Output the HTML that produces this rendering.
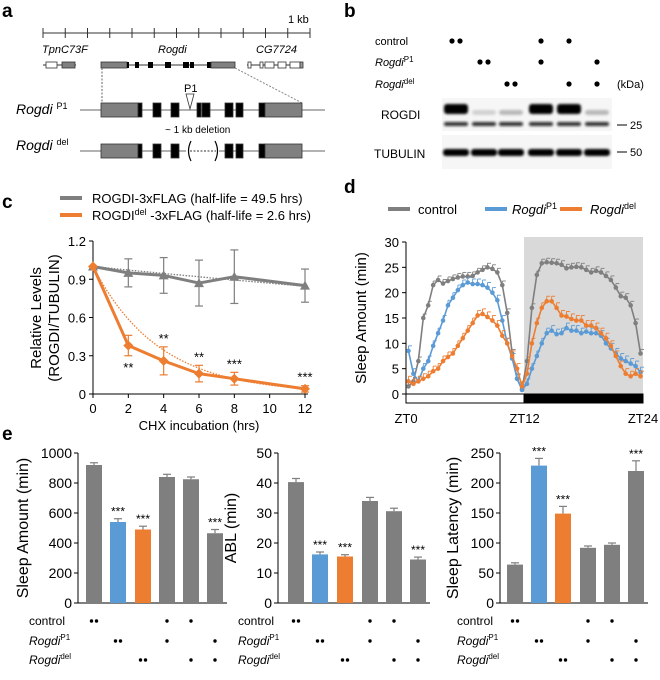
<!DOCTYPE html>
<html><head><meta charset="utf-8">
<style>
html,body{margin:0;padding:0;background:#fff;}
svg{display:block;font-family:"Liberation Sans",Arial,sans-serif;}
.it{font-style:italic;}
</style></head>
<body>
<svg id="fig" width="660" height="680" viewBox="0 0 660 680" xmlns="http://www.w3.org/2000/svg">
<defs>
<filter id="blur1"><feGaussianBlur stdDeviation="1.2"/></filter>
</defs>
<!-- panel letters -->
<g font-weight="bold" font-size="19" fill="#000">
<text x="2" y="17">a</text>
<text x="344" y="17">b</text>
<text x="2" y="208">c</text>
<text x="344" y="193">d</text>
<text x="2" y="440">e</text>
</g>

<!-- Panel a -->
<g id="panelA">
<line x1="43" y1="33" x2="310" y2="33" stroke="#333" stroke-width="1"/>
<g id="scaleTicks" stroke="#333"></g>
<text x="288" y="23" font-size="11">1 kb</text>
<text x="42" y="53" font-size="11" class="it">TpnC73F</text>
<text x="158" y="53" font-size="11" class="it">Rogdi</text>
<text x="256" y="53" font-size="11" class="it">CG7724</text>
<!-- TpnC73F -->
<line x1="43" y1="65" x2="76" y2="65" stroke="#333"/>
<rect x="46" y="62" width="11" height="6" fill="#fff" stroke="#333" stroke-width="0.8"/>
<rect x="62" y="62" width="13" height="6" fill="#808080" stroke="#333" stroke-width="0.8"/>
<!-- Rogdi small -->
<line x1="101" y1="65" x2="235" y2="65" stroke="#333"/>
<rect x="101" y="62" width="26" height="6" fill="#808080" stroke="#333" stroke-width="0.8"/>
<rect x="127" y="62" width="2" height="6" fill="#000"/>
<rect x="135" y="62" width="4" height="6" fill="#000"/>
<rect x="148" y="62" width="5" height="6" fill="#000"/>
<rect x="165" y="62" width="6" height="6" fill="#000"/>
<rect x="183" y="62" width="6" height="6" fill="#000"/>
<rect x="190" y="62" width="4" height="6" fill="#000"/>
<rect x="207" y="62" width="4" height="6" fill="#000"/>
<rect x="211" y="62" width="24" height="6" fill="#808080" stroke="#333" stroke-width="0.8"/>
<!-- CG7724 -->
<line x1="247" y1="65" x2="303" y2="65" stroke="#333"/>
<rect x="248" y="62" width="3" height="6" fill="#fff" stroke="#333" stroke-width="0.8"/>
<rect x="260" y="62" width="3" height="6" fill="#fff" stroke="#333" stroke-width="0.8"/>
<rect x="265" y="62" width="9" height="6" fill="#fff" stroke="#333" stroke-width="0.8"/>
<rect x="278" y="62" width="8" height="6" fill="#fff" stroke="#333" stroke-width="0.8"/>
<rect x="290" y="62" width="10" height="6" fill="#fff" stroke="#333" stroke-width="0.8"/>
<rect x="300" y="62" width="3" height="6" fill="#999" stroke="#333" stroke-width="0.8"/>
<line x1="102" y1="68" x2="102" y2="103" stroke="#666" stroke-dasharray="2,1.5"/>
<line x1="235" y1="68" x2="302" y2="103" stroke="#888" stroke-dasharray="2,1.5"/>
<!-- P1 -->
<text x="16" y="114" font-size="14" class="it">Rogdi <tspan font-size="9" font-style="normal" dy="-5">P1</tspan></text>
<line x1="80" y1="110" x2="325" y2="110" stroke="#666"/>
<g id="p1Boxes"></g>
<text x="184" y="92" font-size="11">P1</text>
<polygon points="186,94 194,94 190,109" fill="#fff" stroke="#333" stroke-width="0.8"/>
<text x="165" y="133" font-size="10">~ 1 kb deletion</text>
<!-- del -->
<text x="16" y="150" font-size="14" class="it">Rogdi <tspan font-size="9" font-style="normal" dy="-5">del</tspan></text>
<line x1="80" y1="151" x2="186" y2="151" stroke="#666"/>
<line x1="219" y1="151" x2="325" y2="151" stroke="#666"/>
<line x1="190" y1="151" x2="216" y2="151" stroke="#333" stroke-dasharray="2,1.5"/>
<path d="M191,141 Q186,151 191,161" fill="none" stroke="#000" stroke-width="1.2"/>
<path d="M215,141 Q220,151 215,161" fill="none" stroke="#000" stroke-width="1.2"/>
<g id="delBoxes"></g>
</g>

<!-- Panel b -->
<g id="panelB">
<text x="375" y="45" font-size="11">control</text>
<text x="375" y="66" font-size="11" class="it">Rogdi<tspan font-size="8" font-style="normal" dy="-4">P1</tspan></text>
<text x="375" y="88" font-size="11" class="it">Rogdi<tspan font-size="8" font-style="normal" dy="-4">del</tspan></text>
<text x="617" y="88" font-size="11">(kDa)</text>
<g id="blotDots"></g>
<rect x="442" y="98" width="170" height="33" fill="#f6f6f6"/>
<rect x="442" y="135" width="170" height="34" fill="#f6f6f6"/>
<g id="blotBands" filter="url(#blur1)"></g>
<text x="381" y="119" font-size="12">ROGDI</text>
<text x="374" y="158" font-size="12">TUBULIN</text>
<line x1="617" y1="125" x2="627" y2="125" stroke="#000"/>
<text x="630" y="129" font-size="11">25</text>
<line x1="617" y1="152" x2="627" y2="152" stroke="#000"/>
<text x="630" y="156" font-size="11">50</text>
</g>

<g id="panelC"></g>
<g id="panelD"></g>
<g id="panelE"></g>
</svg>
<script>
// ---------- Panel C data ----------
const cTimes = [0, 2, 4, 6, 8, 12];
const cControl = [1, 0.95, 0.93, 0.87, 0.92, 0.85];
const cControlErr = [0, 0.11, 0.14, 0.18, 0.21, 0.13];
const cDel = [1, 0.38, 0.26, 0.16, 0.12, 0.04];
const cDelErr = [0, 0.08, 0.11, 0.065, 0.05, 0.025];
const cHalfLives = [49.5, 2.6];
const cStars = ["", "**", "**", "**", "***", "***"];
const cYTicks = [0, 0.3, 0.6, 0.9, 1.2];
const cXTicks = [0, 2, 4, 6, 8, 10, 12];

// ---------- Panel D data (30-min bins, 48 per genotype) ----------
const dControl = [1.5,2.5,6.5,15,17.5,21.5,22.5,21.8,22.3,22.7,23,23.2,23.2,23.3,24,24.5,25,24.7,24,21.5,16,8,3,1,
 6.5,17,23.5,25.8,26,25.9,25.8,25.5,24.8,25,25.1,25,24.5,24,24.3,24,23.3,22.5,21,19.3,19,17.5,14,8];
const dP1 = [8.5,4,2.5,5,6.5,9.5,12,14.5,17.5,19,20.5,21.5,22,21.7,21.7,21.5,21,20,18.5,14.5,10,7,3,0.8,
 2,5,7.5,10,12,12.5,11.8,12,13,12.5,12.5,12,12.3,12,12,11.5,10,9,8,7,6.5,6,5.5,4.3];
const dDel = [2.5,2,2.5,3,3.5,4.5,5,6.5,7.3,8,9.5,11,12.5,14,15.5,15.8,15.2,14.5,13.5,11.5,10,7.5,5,1.5,
 4,10,14,17,18.3,18.3,17,15.5,15.3,14.8,14.5,14.5,13.5,13.5,13,12,11,9.5,7.5,5.5,4,3.5,4,3.5];
const dErr = [0.8, 1.0, 1.0];
const dYTicks = [0,5,10,15,20,25,30];
const dXTicks = ["ZT0","ZT12","ZT24"];

// ---------- Panel E data ----------
const eSleep = [920, 540, 490, 840, 825, 465];
const eSleepErr = [15, 22, 22, 18, 15, 25];
const eABL = [40.3, 16.2, 15.5, 34, 30.6, 14.5];
const eABLErr = [1.2, 0.8, 0.6, 1.2, 1.0, 0.8];
const eLatency = [64, 229, 149, 92, 97, 220];
const eLatencyErr = [3, 12, 12, 3, 3, 17];
const eStars = ["", "***", "***", "", "", "***"];
const eSleepTicks = [0,200,400,600,800,1000];
const eABLTicks = [0,10,20,30,40,50];
const eLatencyTicks = [0,50,100,150,200,250];
// genotype matrix: rows control, P1, del; dots per lane
const genoControl = [2,0,0,1,1,0];
const genoP1 = [0,2,0,1,0,1];
const genoDel = [0,0,2,0,1,1];

const GRAY = "#7f7f7f", BLUE = "#5b9bd5", ORANGE = "#ed7d31";
const NS = "http://www.w3.org/2000/svg";
function mk(tag, attrs, parent) {
  const e = document.createElementNS(NS, tag);
  for (const k in attrs) e.setAttribute(k, attrs[k]);
  parent.appendChild(e);
  return e;
}
function txt(s, attrs, parent) { const e = mk("text", attrs, parent); e.textContent = s; return e; }

// Panel A boxes & scale
(function(){
  const st = document.getElementById("scaleTicks");
  for (let i = 0; i <= 12; i++) {
    const x = 43 + i * 267 / 12;
    const l = mk("line", {x1:x, y1:28, x2:x, y2:38}, st);
    
    
  }
  const boxes = [[101,37,"#808080"],[138,4,"#000"],[153,8,"#000"],[171,8,"#000"],[197,4,"#000"],[202,8,"#000"],[225,8,"#000"],[236,7,"#000"],[259,6,"#000"],[265,37,"#808080"]];
  const p1 = document.getElementById("p1Boxes");
  boxes.forEach(b => {
    const r = mk("rect", {x:b[0], y:103, width:b[1], height:14, fill:b[2], stroke:"#333", "stroke-width":0.8}, p1);
    
    
  });
  const del = document.getElementById("delBoxes");
  boxes.filter(b => b[0] < 190 || b[0] > 219).forEach(b => {
    const r = mk("rect", {x:b[0], y:144, width:b[1], height:14, fill:b[2], stroke:"#333", "stroke-width":0.8}, del);
    
    
  });
})();

// Panel B
(function(){
  const lanes = [456, 484, 511, 541, 569, 597];
  const dg = document.getElementById("blotDots");
  const rows = [[genoControl,41],[genoP1,62],[genoDel,84]];
  rows.forEach(r => r[0].forEach((n,i) => {
    for (let k = 0; k < n; k++) {
      const cx = lanes[i] + (n === 2 ? (k ? 4 : -4) : 0);
      const c = mk("circle", {cx:cx, cy:r[1], r:2.6, fill:"#000"}, dg);
      
      
    }
  }));
  const bg = document.getElementById("blotBands");
  const upper = [1, 0.15, 0.25, 1, 1, 0.25];
  lanes.forEach((x,i) => {
    const a = mk("rect", {x:x-12, y:upper[i] > 0.5 ? 104 : 110, width:24, height:upper[i] > 0.5 ? 10 : 5, rx:3, fill:"#000", opacity:upper[i] > 0.5 ? 1 : upper[i]}, bg);
    
    
    const b = mk("rect", {x:x-12, y:122, width:24, height:4, rx:2, fill:"#111", opacity:0.85}, bg);
    
    
    const t = mk("rect", {x:x-13, y:149, width:26, height:7, rx:3, fill:"#000"}, bg);
    
    
  });
})();

// Panel C
(function(){
  const g = document.getElementById("panelC");
  const x0 = 93, x1 = 305, yb = 394, yt = 241;
  const xs = v => x0 + (v / 12) * (x1 - x0);
  const ys = v => yb - (v / 1.2) * (yb - yt);
  // legend
  let l = mk("line", {x1:60, y1:198, x2:82, y2:198, stroke:GRAY, "stroke-width":4}, g);
   
  let t = txt("ROGDI-3xFLAG (half-life = 49.5 hrs)", {x:92, y:203, "font-size":13}, g);
   
  l = mk("line", {x1:60, y1:215, x2:82, y2:215, stroke:ORANGE, "stroke-width":4}, g);
   
  t = mk("text", {x:92, y:220, "font-size":13}, g);
  t.innerHTML = 'ROGDI<tspan font-size="9" dy="-5">del</tspan><tspan dy="5"> -3xFLAG (half-life = 2.6 hrs)</tspan>';
   
  // axes
  mk("line", {x1:x0, y1:yt, x2:x0, y2:yb, stroke:"#000"}, g);
  mk("line", {x1:x0, y1:yb, x2:x1+3, y2:yb, stroke:"#000"}, g);
  cYTicks.forEach(v => {
    mk("line", {x1:x0-4, y1:ys(v), x2:x0, y2:ys(v), stroke:"#000"}, g);
    const e = txt(v === 0 ? "0" : v.toFixed(1), {x:x0-7, y:ys(v)+5, "font-size":13, "text-anchor":"end"}, g);
     
  });
  cXTicks.forEach(v => {
    mk("line", {x1:xs(v), y1:yb, x2:xs(v), y2:yb+4, stroke:"#000"}, g);
    const e = txt(String(v), {x:xs(v), y:413, "font-size":13, "text-anchor":"middle"}, g);
     
  });
  t = txt("CHX incubation (hrs)", {x:199, y:430, "font-size":13, "text-anchor":"middle"}, g);
   
  t = txt("Relative Levels", {x:0, y:0, "font-size":15, "text-anchor":"middle", transform:"translate(41,318) rotate(-90)"}, g);
   
  t = txt("(ROGDI/TUBULIN)", {x:0, y:0, "font-size":15, "text-anchor":"middle", transform:"translate(59,318) rotate(-90)"}, g);
   
  // fits
  [[cHalfLives[0], GRAY], [cHalfLives[1], ORANGE]].forEach(([h, col]) => {
    let d = "";
    for (let k = 0; k <= 60; k++) { const tt = k * 0.2; d += (k ? "L" : "M") + xs(tt).toFixed(1) + "," + ys(Math.pow(0.5, tt / h)).toFixed(1); }
    const p = mk("path", {d:d, fill:"none", stroke:col, "stroke-width":1.3, "stroke-dasharray":"1.5,1.5"}, g);
     
  });
  function series(vals, errs, col, name, marker) {
    errs.forEach((e,i) => {
      if (!e) return;
      const x = xs(cTimes[i]);
      mk("line", {x1:x, y1:ys(vals[i]-e), x2:x, y2:ys(vals[i]+e), stroke:col, "stroke-width":1.2}, g);
      mk("line", {x1:x-4, y1:ys(vals[i]-e), x2:x+4, y2:ys(vals[i]-e), stroke:col, "stroke-width":1.2}, g);
      mk("line", {x1:x-4, y1:ys(vals[i]+e), x2:x+4, y2:ys(vals[i]+e), stroke:col, "stroke-width":1.2}, g);
    });
    const p = mk("path", {d: vals.map((v,i)=>(i?"L":"M")+xs(cTimes[i])+","+ys(v)).join(""), fill:"none", stroke:col, "stroke-width":3, "stroke-linejoin":"round"}, g);
     
    vals.forEach((v,i) => {
      const x = xs(cTimes[i]), y = ys(v);
      const m = marker === "tri"
        ? mk("polygon", {points:`${x-5},${y+4} ${x+5},${y+4} ${x},${y-5}`, fill:col}, g)
        : mk("polygon", {points:`${x},${y-5} ${x+5},${y} ${x},${y+5} ${x-5},${y}`, fill:col}, g);
       
    });
  }
  series(cControl, cControlErr, GRAY, "control", "tri");
  series(cDel, cDelErr, ORANGE, "del", "dia");
  cStars.forEach((s,i) => {
    if (!s) return;
    const below = i === 1;
    const y = below ? ys(cDel[i] - cDelErr[i]) + 16 : ys(cDel[i] + cDelErr[i]) - 4;
    const e = txt(s, {x:xs(cTimes[i]), y:y, "font-size":13, "text-anchor":"middle"}, g);
     
  });
})();

// Panel D
(function(){
  const g = document.getElementById("panelD");
  const x0 = 406, x1 = 643, xm = 524, yb = 394, yt = 242;
  const xs = h => x0 + (h / 24) * (x1 - x0);
  const ys = v => yb - (v / 30) * (yb - yt);
  const sh = mk("rect", {x:xm, y:237, width:x1-xm, height:yb-237, fill:"#d9d9d9"}, g);
   
  // legend
  const leg = [["control", GRAY, 388, 418, ""], ["Rogdi", BLUE, 485, 512, "P1"], ["Rogdi", ORANGE, 560, 590, "del"]];
  leg.forEach(L => {
    const l = mk("line", {x1:L[2], y1:209, x2:L[2]+22, y2:209, stroke:L[1], "stroke-width":4}, g);
     
    const t = mk("text", {x:L[3], y:214, "font-size":13}, g);
    if (L[4]) t.innerHTML = '<tspan font-style="italic">Rogdi</tspan><tspan font-size="9" dy="-5">' + L[4] + '</tspan>';
    else t.textContent = L[0];
     
  });
  mk("line", {x1:x0, y1:yt, x2:x0, y2:yb, stroke:"#000"}, g);
  dYTicks.forEach(v => {
    mk("line", {x1:x0-4, y1:ys(v), x2:x0, y2:ys(v), stroke:"#000"}, g);
    const e = txt(String(v), {x:x0-7, y:ys(v)+5, "font-size":13, "text-anchor":"end"}, g);
     
  });
  let t = txt("Sleep Amount (min)", {x:0, y:0, "font-size":15, "text-anchor":"middle", transform:"translate(366,318) rotate(-90)"}, g);
   
  let r = mk("rect", {x:x0, y:yb, width:xm-x0, height:9, fill:"#fff", stroke:"#000"}, g);
   
  r = mk("rect", {x:xm, y:yb, width:x1-xm, height:9, fill:"#000", stroke:"#000"}, g);
   
  dXTicks.forEach((s,i) => {
    const e = txt(s, {x:xs(i*12), y:423, "font-size":13, "text-anchor":"middle"}, g);
     
  });
  [[dControl, GRAY, dErr[0], "control"], [dP1, BLUE, dErr[1], "rogdi-p1"], [dDel, ORANGE, dErr[2], "rogdi-del"]].forEach(([vals, col, err, name]) => {
    const hx = i => xs(i * 0.5 + 0.25);
    vals.forEach((v,i) => {
      const x = hx(i), y = ys(v), yy = ys(v + err);
      mk("line", {x1:x, y1:y, x2:x, y2:yy, stroke:col, "stroke-width":0.9}, g);
      mk("line", {x1:x, y1:yy, x2:x+3.5, y2:yy, stroke:col, "stroke-width":0.9}, g);
    });
    const p = mk("path", {d: vals.map((v,i)=>(i?"L":"M")+hx(i).toFixed(1)+","+ys(v).toFixed(1)).join(""), fill:"none", stroke:col, "stroke-width":1.6}, g);
     
    vals.forEach((v,i) => {
      const c = mk("circle", {cx:hx(i), cy:ys(v), r:2.3, fill:col}, g);
       
    });
  });
})();

// Panel E
(function(){
  const g = document.getElementById("panelE");
  const colors = [GRAY, BLUE, ORANGE, GRAY, GRAY, GRAY];
  const yb = 603, yt = 453;
  function chart(ax, centers, vals, errs, ticks, title, labelX, name) {
    const max = ticks[ticks.length-1];
    const ys = v => yb - (v / max) * (yb - yt);
    mk("line", {x1:ax, y1:yt, x2:ax, y2:yb, stroke:"#000"}, g);
    mk("line", {x1:ax, y1:yb, x2:centers[5]+12, y2:yb, stroke:"#000"}, g);
    ticks.forEach(v => {
      mk("line", {x1:ax-4, y1:ys(v), x2:ax, y2:ys(v), stroke:"#000"}, g);
      const e = txt(String(v), {x:ax-6, y:ys(v)+5, "font-size":14, "text-anchor":"end"}, g);
       
    });
    const t = txt(title, {x:0, y:0, "font-size":16, "text-anchor":"middle", transform:`translate(${ax - (ticks[ticks.length-1] >= 1000 ? 50 : 42)},528) rotate(-90)`}, g);
     
    vals.forEach((v,i) => {
      const cx = centers[i];
      mk("line", {x1:cx, y1:ys(v), x2:cx, y2:ys(v+errs[i]), stroke:"#7f7f7f", "stroke-width":1.2}, g);
      mk("line", {x1:cx-4, y1:ys(v+errs[i]), x2:cx+4, y2:ys(v+errs[i]), stroke:"#7f7f7f", "stroke-width":1.2}, g);
      const b = mk("rect", {x:cx-8, y:ys(v), width:16, height:yb-ys(v), fill:colors[i]}, g);
       
      if (eStars[i]) {
        const s = txt(eStars[i], {x:cx, y:ys(v+errs[i])-3, "font-size":12, "text-anchor":"middle"}, g);
         
      }
    });
    const rows = [[genoControl,621,"control"],[genoP1,641,"P1"],[genoDel,660,"del"]];
    rows.forEach(R => {
      const lt = mk("text", {x:labelX, y:R[1]+4, "font-size":12}, g);
      if (R[2] === "control") lt.textContent = "control";
      else lt.innerHTML = '<tspan font-style="italic">Rogdi</tspan><tspan font-size="8" dy="-5">' + R[2] + '</tspan>';
       
      R[0].forEach((n,i) => {
        for (let k = 0; k < n; k++) {
          const c = mk("circle", {cx:centers[i] + (n === 2 ? (k ? 2.5 : -2.5) : 0), cy:R[1], r:1.7, fill:"#000"}, g);
           
        }
      });
    });
  }
  chart(78, [94,118,143,167,191,215], eSleep, eSleepErr, eSleepTicks, "Sleep Amount (min)", 29, "sleep-amount");
  chart(278, [296,320,345,370,394,418], eABL, eABLErr, eABLTicks, "ABL (min)", 238, "abl");
  chart(500, [515,539,563,588,612,636], eLatency, eLatencyErr, eLatencyTicks, "Sleep Latency  (min)", 457, "sleep-latency");
})();
</script>
</body></html>
